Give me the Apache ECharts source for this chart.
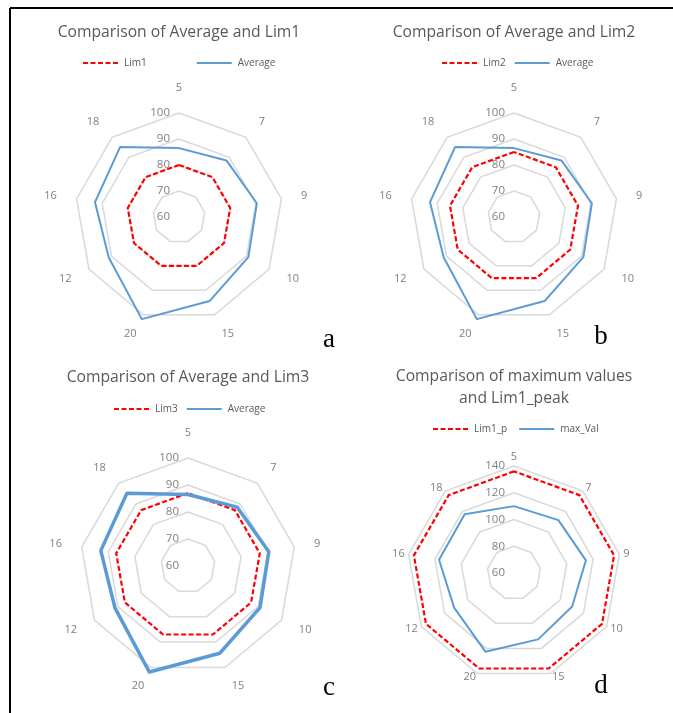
<!DOCTYPE html>
<html>
<head>
<meta charset="utf-8">
<script src="https://cdn.jsdelivr.net/npm/echarts@6/dist/echarts.min.js"></script>
<style>
html,body{margin:0;padding:0;background:#fff;}
#c{width:673px;height:713px;}
</style>
</head>
<body>
<div id="c"></div>
<script>
// ---- data ----
var categories = ['5', '7', '9', '10', '15', '20', '12', '16', '18'];
var average = [86.5, 88.4, 90.4, 90.8, 94.4, 101.8, 91.2, 92.8, 95.2];
var lim1 = [80, 80, 80, 80, 80, 80, 80, 80, 80];
var lim2 = [85, 85, 85, 85, 85, 85, 85, 85, 85];
var lim3 = [87, 87, 87, 87, 87, 87, 87, 87, 87];
var lim1Peak = [136, 136, 136, 136, 136, 136, 136, 136, 136];
var maxVal = [110, 111.6, 114.6, 110.2, 112.8, 122.6, 111.7, 116.9, 117.4];
var ticksABC = [60, 70, 80, 90, 100];
var ticksD = [60, 80, 100, 120, 140];
var titles = ['Comparison of Average and Lim1', 'Comparison of Average and Lim2',
  'Comparison of Average and Lim3', 'Comparison of maximum values\nand Lim1_peak'];
var panelLetters = ['a', 'b', 'c', 'd'];

// ECharts radar runs counter-clockwise; the reference runs clockwise
var order = [0, 8, 7, 6, 5, 4, 3, 2, 1];
function reorder(arr) { return order.map(function (i) { return arr[i]; }); }

var RED = '#ff0000', BLUE = '#5b9bd5', GRAY = '#808080', TITLE = '#595959';
var font = 'Open Sans';

function radar(center, radius, ticks, gap) {
  return {
    center: center, radius: radius, startAngle: 90, shape: 'polygon',
    splitNumber: ticks.length - 1,
    indicator: reorder(categories).map(function (c, i) {
      var o = { name: c, min: ticks[0], max: ticks[ticks.length - 1] };
      if (i === 0) o.axisLabel = { show: true };
      return o;
    }),
    axisName: { color: GRAY, fontSize: 11, fontFamily: font },
    nameGap: gap,
    splitLine: { lineStyle: { color: '#d9d9d9', width: 1.5 } },
    splitArea: { show: false },
    axisLine: { show: false },
    axisTick: { show: false },
    axisLabel: { show: false, color: GRAY, fontSize: 11.5, fontFamily: font, margin: 9 }
  };
}

var dashIcon = 'path://M0 0H5V2H0Z M7.5 0H12.5V2H7.5Z M15 0H20V2H15Z M22.5 0H27.5V2H22.5Z M30 0H35V2H30Z';
var lineIcon = 'path://M0 0H35V2H0Z';

function legend(left, top, gap, names, blueH) {
  return {
    left: left, top: top, itemGap: gap, itemWidth: 37, itemHeight: 2,
    padding: 0, selectedMode: false,
    textStyle: { color: TITLE, fontSize: 10, fontFamily: font },
    data: [
      { name: names[0], icon: dashIcon, itemStyle: { color: RED } },
      { name: names[1], icon: lineIcon, itemHeight: blueH || 2, itemStyle: { color: BLUE } }
    ]
  };
}

function series(radarIndex, redName, redData, blueName, blueData, blueW) {
  return [{
    type: 'radar', radarIndex: radarIndex, symbol: 'none', silent: true,
    data: [{ name: redName, value: reorder(redData),
      lineStyle: { color: RED, width: 2.2, type: [5, 2.5] }, itemStyle: { color: RED } }]
  }, {
    type: 'radar', radarIndex: radarIndex, symbol: 'none', silent: true,
    data: [{ name: blueName, value: reorder(blueData),
      lineStyle: { color: BLUE, width: blueW }, itemStyle: { color: BLUE } }]
  }];
}

var titleStyle = { color: TITLE, fontSize: 15.7, fontWeight: 'normal', fontFamily: font, lineHeight: 22 };
var letterStyle = { fontSize: 27, fontFamily: 'Liberation Serif', fill: '#000' };

var option = {
  animation: false,
  backgroundColor: '#fff',
  title: [
    { text: titles[0], left: 179, top: 22, textAlign: 'center', padding: 0, textStyle: titleStyle },
    { text: titles[1], left: 514, top: 22, textAlign: 'center', padding: 0, textStyle: titleStyle },
    { text: titles[2], left: 188, top: 367, textAlign: 'center', padding: 0, textStyle: titleStyle },
    { text: titles[3], left: 514, top: 366, textAlign: 'center', padding: 0, textStyle: titleStyle }
  ],
  legend: [
    legend(83, 58, 50, ['Lim1', 'Average']),
    legend(442, 58, 9, ['Lim2', 'Average']),
    legend(114, 404, 9, ['Lim3', 'Average'], 3.5),
    legend(433, 424, 12, ['Lim1_p', 'max_Val'])
  ],
  radar: [
    radar([179, 217], 104, ticksABC, 20),
    radar([514, 217], 104, ticksABC, 20),
    radar([188, 566], 108, ticksABC, 20),
    radar([514, 573], 107, ticksD, 4)
  ],
  series: [].concat(
    series(0, 'Lim1', lim1, 'Average', average, 2),
    series(1, 'Lim2', lim2, 'Average', average, 2),
    series(2, 'Lim3', lim3, 'Average', average, 3.5),
    series(3, 'Lim1_p', lim1Peak, 'max_Val', maxVal, 2)
  ),
  graphic: [
    { type: 'line', shape: { x1: 10, y1: 8, x2: 673, y2: 8 }, style: { stroke: '#000', lineWidth: 2 } },
    { type: 'line', shape: { x1: 10, y1: 8, x2: 10, y2: 713 }, style: { stroke: '#000', lineWidth: 2 } },
    { type: 'text', x: 329, y: 340, style: Object.assign({ text: panelLetters[0], align: 'center', verticalAlign: 'middle' }, letterStyle) },
    { type: 'text', x: 601, y: 337, style: Object.assign({ text: panelLetters[1], align: 'center', verticalAlign: 'middle' }, letterStyle) },
    { type: 'text', x: 329, y: 688, style: Object.assign({ text: panelLetters[2], align: 'center', verticalAlign: 'middle' }, letterStyle) },
    { type: 'text', x: 601, y: 686, style: Object.assign({ text: panelLetters[3], align: 'center', verticalAlign: 'middle' }, letterStyle) }
  ]
};

var chart = echarts.init(document.getElementById('c'), null, { renderer: 'canvas' });
chart.setOption(option);
</script>
</body>
</html>
